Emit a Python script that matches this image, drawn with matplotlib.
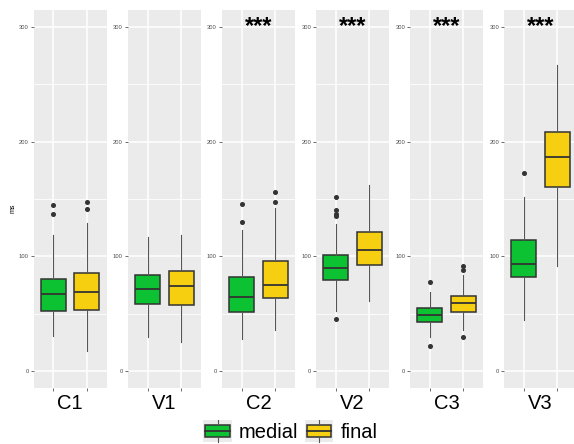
import matplotlib
matplotlib.use("Agg")
import matplotlib.pyplot as plt
from matplotlib.patches import Rectangle, Patch
from matplotlib.lines import Line2D
from matplotlib.legend_handler import HandlerBase

plt.rcParams["font.family"] = ["Liberation Sans", "DejaVu Sans"]

# --- data --------------------------------------------------------------------
categories = ["C1", "V1", "C2", "V2", "C3", "V3"]
signif = ["", "", "***", "***", "***", "***"]
groups = ["medial", "final"]
colors = ["#0cc132", "#f6d010"]

medial_q1 = [52.5, 58.5, 51.5, 79.5, 42.5, 82.0]
medial_med = [67.0, 71.6, 64.5, 89.5, 48.6, 93.0]
medial_q3 = [80.3, 83.8, 82.0, 100.8, 55.0, 114.3]
medial_lo = [30.0, 29.4, 27.6, 51.8, 29.1, 44.5]
medial_hi = [119.0, 117.0, 123.0, 128.3, 68.4, 151.5]
medial_out = [[145, 137], [], [145.7, 129.7],
              [151.5, 140.5, 136.7, 135.5, 45.0], [77.7, 22.0], [172.5]]

final_q1 = [53.2, 57.8, 63.5, 92.5, 51.3, 160.7]
final_med = [69.0, 74.0, 75.0, 105.6, 59.3, 186.7]
final_q3 = [85.2, 87.0, 96.0, 121.0, 65.4, 208.5]
final_lo = [16.9, 25.3, 35.2, 61.1, 35.8, 91.9]
final_hi = [129.4, 118.4, 142.5, 162.3, 84.0, 267.0]
final_out = [[147, 141.4], [], [156.2, 147.8], [], [91.9, 88.1, 29.1], []]

yticks = [0, 100, 200, 300]
ylim = (-15, 315)

# --- layout (pixels of a 574x444 canvas) ------------------------------------
W, H = 574, 444
panel_left = [33.5, 127.7, 221.7, 316.0, 410.0, 504.0]
panel_w, panel_top, panel_bot = 73.3, 10.0, 388.0

fig = plt.figure(figsize=(W / 100, H / 100), dpi=100)

DARK = "#333333"


def stats(i, q1, med, q3, lo, hi, out):
    return dict(q1=q1[i], med=med[i], q3=q3[i], whislo=lo[i], whishi=hi[i],
                fliers=out[i])


for i, cat in enumerate(categories):
    ax = fig.add_axes([panel_left[i] / W, 1 - panel_bot / H,
                       panel_w / W, (panel_bot - panel_top) / H])
    ax.set_facecolor("#ebebeb")
    for s in ax.spines.values():
        s.set_visible(False)

    bstats = [stats(i, medial_q1, medial_med, medial_q3, medial_lo, medial_hi, medial_out),
              stats(i, final_q1, final_med, final_q3, final_lo, final_hi, final_out)]
    bp = ax.bxp(bstats, positions=[1, 2], widths=0.75, patch_artist=True,
                showcaps=False, zorder=3,
                boxprops=dict(edgecolor=DARK, linewidth=1.1),
                medianprops=dict(color=DARK, linewidth=1.3),
                whiskerprops=dict(color="#555555", linewidth=0.8),
                flierprops=dict(marker="o", markersize=2.6, markerfacecolor=DARK,
                                markeredgecolor=DARK, linestyle="none"))
    for patch, c in zip(bp["boxes"], colors):
        patch.set_facecolor(c)

    ax.set_xlim(0.4, 2.6)
    ax.set_ylim(*ylim)
    ax.set_yticks(yticks)
    ax.set_yticks([50, 150, 250], minor=True)
    ax.set_xticks([1, 2])
    ax.set_xticklabels([])
    ax.grid(which="major", color="white", linewidth=1.1, zorder=0)
    ax.grid(which="minor", axis="y", color="white", linewidth=0.6, zorder=0)
    ax.set_axisbelow(True)
    ax.tick_params(axis="both", which="major", length=2, width=0.5,
                   color=DARK, labelsize=4.2, labelcolor="#4d4d4d", pad=1.5)
    ax.tick_params(axis="y", which="minor", length=0)
    ax.set_xlabel(cat, fontsize=14.5, labelpad=0.5)
    if signif[i]:
        ax.text(1.5, 300.5, signif[i], ha="center", va="center", fontsize=17,
                fontweight="bold")

fig.text(13 / W, 1 - 208 / H, "ms", rotation=90, fontsize=5,
         ha="center", va="center")


class BoxKey(HandlerBase):
    def create_artists(self, legend, orig, xd, yd, width, height, fontsize, trans):
        bg = Rectangle((-xd, -yd), width, height, facecolor="#ebebeb",
                       edgecolor="none", transform=trans)
        bx, by = -xd + 0.07 * width, -yd + 0.23 * height
        bw, bh = 0.86 * width, 0.54 * height
        box = Rectangle((bx, by), bw, bh, facecolor=orig.get_facecolor(),
                        edgecolor=DARK, linewidth=1.1, transform=trans)
        cx, cy = -xd + width / 2, -yd + height / 2
        med = Line2D([bx, bx + bw], [cy, cy], color=DARK, linewidth=1.3, transform=trans)
        w1 = Line2D([cx, cx], [-yd, by], color="#555555", linewidth=0.8, transform=trans)
        w2 = Line2D([cx, cx], [by + bh, -yd + height], color="#555555",
                    linewidth=0.8, transform=trans)
        return [bg, box, med, w1, w2]


handles = [Patch(facecolor=c) for c in colors]
fig.legend(handles, groups, handler_map={Patch: BoxKey()}, loc="center",
           bbox_to_anchor=(0.506, 1 - 431 / H), ncol=2, frameon=False,
           fontsize=14.5, handlelength=1.4, handleheight=1.3,
           handletextpad=0.35, columnspacing=0.35, borderpad=0,
           borderaxespad=0)

fig.savefig("out.png", dpi=100)
